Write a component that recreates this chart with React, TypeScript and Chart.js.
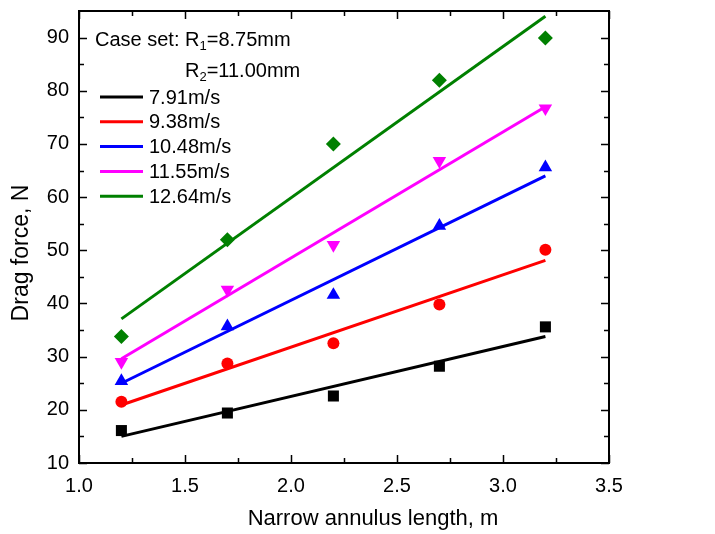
import { useEffect, useRef } from "react";
import { Chart, registerables } from "chart.js";

Chart.register(...registerables);

const FONT = "'Liberation Sans', Arial, sans-serif";

// ---- data ----
const lengths = [1.2, 1.7, 2.2, 2.7, 3.2];
const force791 = [16.1, 19.4, 22.6, 28.2, 35.6];
const force938 = [21.5, 28.7, 32.5, 39.8, 50.1];
const force1048 = [25.4, 35.7, 41.6, 54.6, 65.6];
const force1155 = [29.0, 42.6, 51.0, 66.8, 76.7];
const force1264 = [33.8, 52.0, 70.0, 82.0, 89.9];

// fitted straight lines (end points)
const fitX = [1.2, 3.2];
const fit791 = [15.0, 33.8];
const fit938 = [20.9, 48.1];
const fit1048 = [25.0, 64.0];
const fit1155 = [29.6, 77.0];
const fit1264 = [37.1, 94.0];

const seriesLabels = ["7.91m/s", "9.38m/s", "10.48m/s", "11.55m/s", "12.64m/s"];
const seriesColors = ["#000000", "#ff0000", "#0000ff", "#ff00ff", "#008000"];

const xTicks = [1.0, 1.5, 2.0, 2.5, 3.0, 3.5];
const xMinorTicks = [1.25, 1.75, 2.25, 2.75, 3.25];
const yTicks = [10, 20, 30, 40, 50, 60, 70, 80, 90];
const yMinorTicks = [15, 25, 35, 45, 55, 65, 75, 85];

const caseLine1 = ["Case set: R", "1", "=8.75mm"];
const caseLine2 = ["R", "2", "=11.00mm"];
const xTitle = "Narrow annulus length, m";
const yTitle = "Drag force, N";

export default function App() {
  const ref = useRef<HTMLCanvasElement>(null);

  useEffect(() => {
    document.body.style.margin = "0";
    document.body.style.overflow = "hidden";

    const pointSets = [force791, force938, force1048, force1155, force1264];
    const fitSets = [fit791, fit938, fit1048, fit1155, fit1264];
    const styles: any[] = ["rect", "circle", "triangle", "triangle", "rectRot"];
    const rotations = [0, 0, 0, 180, 0];
    const radii = [7.8, 6, 7.8, 7.8, 7.5];

    const datasets: any[] = [];
    fitSets.forEach((f, i) => {
      datasets.push({
        type: "line",
        label: seriesLabels[i] + " fit",
        data: fitX.map((x, j) => ({ x, y: f[j] })),
        borderColor: seriesColors[i],
        borderWidth: 3,
        pointRadius: 0,
        showLine: true,
        fill: false,
      });
    });
    pointSets.forEach((p, i) => {
      datasets.push({
        type: "scatter",
        label: seriesLabels[i],
        data: lengths.map((x, j) => ({ x, y: p[j] })),
        backgroundColor: seriesColors[i],
        borderColor: seriesColors[i],
        borderWidth: 0,
        pointStyle: styles[i],
        pointRotation: rotations[i],
        pointRadius: radii[i],
        showLine: false,
      });
    });

    const framePlugin = {
      id: "frame",
      afterDraw(chart: any) {
        const { ctx, chartArea: a, scales } = chart;
        const xs = scales.x;
        const ys = scales.y;
        ctx.save();
        ctx.strokeStyle = "#000";
        ctx.lineWidth = 2;
        ctx.strokeRect(a.left, a.top, a.right - a.left, a.bottom - a.top);
        ctx.lineWidth = 1.5;
        const major = 8;
        const minor = 5;
        ctx.beginPath();
        const xt = (v: number, len: number) => {
          const px = Math.round(xs.getPixelForValue(v)) + 0.5;
          ctx.moveTo(px, a.bottom);
          ctx.lineTo(px, a.bottom - len);
          ctx.moveTo(px, a.top);
          ctx.lineTo(px, a.top + len);
        };
        const yt = (v: number, len: number) => {
          const py = Math.round(ys.getPixelForValue(v)) + 0.5;
          ctx.moveTo(a.left, py);
          ctx.lineTo(a.left + len, py);
          ctx.moveTo(a.right, py);
          ctx.lineTo(a.right - len, py);
        };
        xTicks.forEach((v) => xt(v, major));
        xMinorTicks.forEach((v) => xt(v, minor));
        yTicks.forEach((v) => yt(v, major));
        yMinorTicks.forEach((v) => yt(v, minor));
        ctx.stroke();

        // axis titles
        ctx.fillStyle = "#000";
        ctx.textAlign = "center";
        ctx.textBaseline = "middle";
        ctx.font = `22px ${FONT}`;
        ctx.fillText(xTitle, 373, 519);
        ctx.save();
        ctx.font = `23px ${FONT}`;
        ctx.translate(22, 253);
        ctx.rotate(-Math.PI / 2);
        ctx.fillText(yTitle, 0, 0);
        ctx.restore();

        // legend header with subscripts
        const drawSub = (parts: string[], x: number, y: number) => {
          ctx.textAlign = "left";
          ctx.textBaseline = "middle";
          ctx.font = `20px ${FONT}`;
          ctx.fillText(parts[0], x, y);
          let cx = x + ctx.measureText(parts[0]).width;
          ctx.font = `13px ${FONT}`;
          ctx.fillText(parts[1], cx, y + 6);
          cx += ctx.measureText(parts[1]).width;
          ctx.font = `20px ${FONT}`;
          ctx.fillText(parts[2], cx, y);
        };
        drawSub(caseLine1, 95, 40);
        drawSub(caseLine2, 185, 71);

        // legend entries
        ctx.font = `20px ${FONT}`;
        ctx.textAlign = "left";
        ctx.textBaseline = "middle";
        seriesLabels.forEach((lab, i) => {
          const y = 97 + i * 24.8;
          ctx.strokeStyle = seriesColors[i];
          ctx.lineWidth = 3;
          ctx.beginPath();
          ctx.moveTo(100, y);
          ctx.lineTo(143, y);
          ctx.stroke();
          ctx.fillStyle = "#000";
          ctx.fillText(lab, 149, y + 1);
        });
        ctx.restore();
      },
    };

    const zeroPad = (s: any) => {
      s.paddingTop = 0;
      s.paddingBottom = 0;
      s.paddingLeft = 0;
      s.paddingRight = 0;
    };

    const chart = new Chart(ref.current!, {
      type: "scatter",
      data: { datasets },
      options: {
        animation: false,
        responsive: true,
        maintainAspectRatio: false,
        layout: { padding: { left: 0, top: 11, right: 106, bottom: 0 } },
        plugins: {
          legend: { display: false },
          tooltip: { enabled: false },
        },
        scales: {
          x: {
            type: "linear",
            min: 1,
            max: 3.5,
            afterBuildTicks: (s: any) => {
              s.ticks = xTicks.map((v) => ({ value: v }));
            },
            afterFit: (s: any) => {
              s.height = 71;
              zeroPad(s);
            },
            ticks: {
              color: "#000",
              font: { family: FONT, size: 20 },
              padding: 11,
              maxRotation: 0,
              autoSkip: false,
              callback: (v: any) => Number(v).toFixed(1),
            },
            grid: { display: false, drawTicks: false },
            border: { display: false },
          },
          y: {
            type: "linear",
            min: 10,
            max: 95,
            afterBuildTicks: (s: any) => {
              s.ticks = yTicks.map((v) => ({ value: v }));
            },
            afterFit: (s: any) => {
              s.width = 79;
              zeroPad(s);
            },
            ticks: {
              color: "#000",
              font: { family: FONT, size: 20 },
              padding: 10,
              autoSkip: false,
              callback: (v: any) => String(v),
            },
            grid: { display: false, drawTicks: false },
            border: { display: false },
          },
        },
      },
      plugins: [framePlugin],
    });
    return () => chart.destroy();
  }, []);

  return (
    <div style={{ width: 715, height: 534, position: "relative" }}>
      <canvas ref={ref} />
    </div>
  );
}
